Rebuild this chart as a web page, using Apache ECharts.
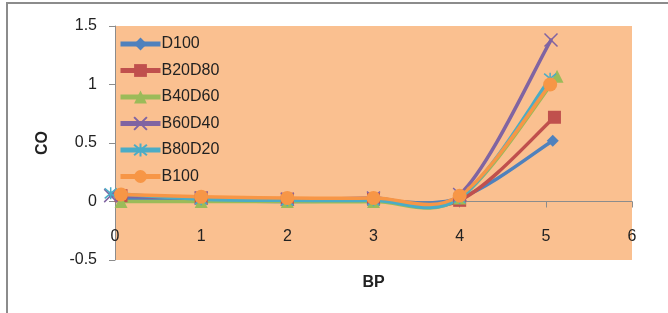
<!doctype html>
<html>
<head>
	<meta charset="utf-8">
	<title>CO vs BP</title>
	<script src="https://cdn.jsdelivr.net/npm/echarts@6/dist/echarts.min.js"></script>
	<style>
		html, body { margin: 0; padding: 0; background: #fff; }
		#main { width: 668px; height: 313px; }
	</style>
</head>
<body>
	<div id="main"></div>
	<script>
		// series names (legend order)
		var names = ['D100', 'B20D80', 'B40D60', 'B60D40', 'B80D20', 'B100'];
		// BP values (x) - the last points sit a bit past 5
		var xD100 = [0.07, 1, 2, 3, 4, 5.08];
		var xB20D80 = [0.07, 1, 2, 3, 4, 5.1];
		var xB40D60 = [0.07, 1, 2, 3, 4, 5.13];
		var xB60D40 = [-0.05, 1, 2, 3, 4, 5.06];
		var xB80D20 = [-0.05, 1, 2, 3, 4, 5.05];
		var xB100 = [0.07, 1, 2, 3, 4, 5.05];
		// CO values (y)
		var yD100 = [0.02, 0.01, 0.0, 0.01, 0.03, 0.52];
		var yB20D80 = [0.05, 0.03, 0.02, 0.02, 0.01, 0.72];
		var yB40D60 = [0.0, 0.0, 0.0, 0.0, 0.03, 1.07];
		var yB60D40 = [0.05, 0.03, 0.02, 0.03, 0.06, 1.38];
		var yB80D20 = [0.07, 0.02, 0.01, 0.01, 0.03, 1.05];
		var yB100 = [0.06, 0.04, 0.03, 0.03, 0.05, 1.0];

		var xs = [xD100, xB20D80, xB40D60, xB60D40, xB80D20, xB100];
		var ys = [yD100, yB20D80, yB40D60, yB60D40, yB80D20, yB100];
		var colors = ['#4F81BD', '#C0504D', '#9BBB59', '#8064A2', '#4BACC6', '#F79646'];
		var symbols = [
			'diamond',
			'rect',
			'triangle',
			'path://M0,0L10,10M10,0L0,10',
			'path://M0,0L10,10M10,0L0,10M5,-1L5,11',
			'circle'
		];
		var sizes = [12, 13, 13, 13, 12, 14];
		var font = 'Liberation Sans';
		var fs = 16;
		var lineW = 3.5;

		// excel-like smoothed line: bezier segments with control points at 1/6
		// of the neighbour difference (this one can dip under the points, echarts' smooth can't)
		function curve(k) {
			return function (params, api) {
				var p = xs[k].map(function (x, i) { return api.coord([x, ys[k][i]]); });
				var n = p.length;
				var kids = [];
				for (var i = 0; i < n - 1; i++) {
					var a = p[i > 0 ? i - 1 : i], b = p[i], c = p[i + 1], d = p[i + 2 < n ? i + 2 : i + 1];
					kids.push({
						type: 'bezierCurve',
						shape: {
							x1: b[0], y1: b[1], x2: c[0], y2: c[1],
							cpx1: b[0] + (c[0] - a[0]) / 6, cpy1: b[1] + (c[1] - a[1]) / 6,
							cpx2: c[0] - (d[0] - b[0]) / 6, cpy2: c[1] - (d[1] - b[1]) / 6
						},
						style: { fill: null, stroke: colors[k], lineWidth: lineW, lineCap: 'round' }
					});
				}
				return { type: 'group', children: kids };
			};
		}

		var series = [];
		names.forEach(function (n, k) {
			var stroked = k === 3 || k === 4;
			series.push({
				name: n + ' line',
				type: 'custom',
				renderItem: curve(k),
				data: [[xs[k][0], ys[k][0]]],
				silent: true
			});
			series.push({
				name: n,
				type: 'line',
				clip: false,
				data: xs[k].map(function (x, i) { return [x, ys[k][i]]; }),
				symbol: symbols[k],
				symbolSize: sizes[k],
				showAllSymbol: true,
				lineStyle: { color: colors[k], width: lineW, opacity: 0 },
				itemStyle: {
					color: colors[k],
					borderColor: colors[k],
					borderWidth: stroked ? 1.5 : 0
				}
			});
		});

		var chart = echarts.init(document.getElementById('main'));
		chart.setOption({
			animation: false,
			color: colors,
			grid: {
				left: 115, right: 36, top: 26, bottom: 53,
				outerBoundsMode: 'none',
				show: true, backgroundColor: '#FAC090', borderWidth: 0
			},
			graphic: [{
				type: 'rect',
				shape: { x: 7, y: 3, width: 700, height: 400 },
				style: { fill: 'none', stroke: '#8c8c8c', lineWidth: 2 },
				silent: true
			}],
			legend: {
				orient: 'vertical',
				left: 113,
				top: 31,
				itemWidth: 40,
				itemHeight: 16,
				itemGap: 10.5,
				lineStyle: { width: 5, opacity: 1 },
				textStyle: { fontFamily: font, fontSize: fs, color: '#222', padding: [0, 0, 0, -4] },
				data: names
			},
			xAxis: {
				type: 'value',
				min: 0,
				max: 6,
				interval: 1,
				name: 'BP',
				nameLocation: 'middle',
				nameGap: 15,
				nameTextStyle: { fontFamily: font, fontSize: fs, fontWeight: 'bold', color: '#222' },
				axisLine: { onZero: true, lineStyle: { color: '#8c8c8c', width: 1 } },
				axisTick: { show: true, length: 6, lineStyle: { color: '#8c8c8c' } },
				axisLabel: { fontFamily: font, fontSize: fs, color: '#222', margin: -31 },
				splitLine: { show: false }
			},
			yAxis: {
				type: 'value',
				min: -0.5,
				max: 1.5,
				interval: 0.5,
				name: 'CO',
				nameLocation: 'middle',
				nameGap: 64,
				nameRotate: 90,
				nameTextStyle: { fontFamily: font, fontSize: fs, fontWeight: 'bold', color: '#222' },
				axisLine: { show: true, onZero: false, lineStyle: { color: '#8c8c8c', width: 1 } },
				axisTick: { show: true, length: 6, lineStyle: { color: '#8c8c8c' } },
				axisLabel: { fontFamily: font, fontSize: fs, color: '#222', margin: 18 },
				splitLine: { show: false }
			},
			series: series
		});
	</script>
</body>
</html>
